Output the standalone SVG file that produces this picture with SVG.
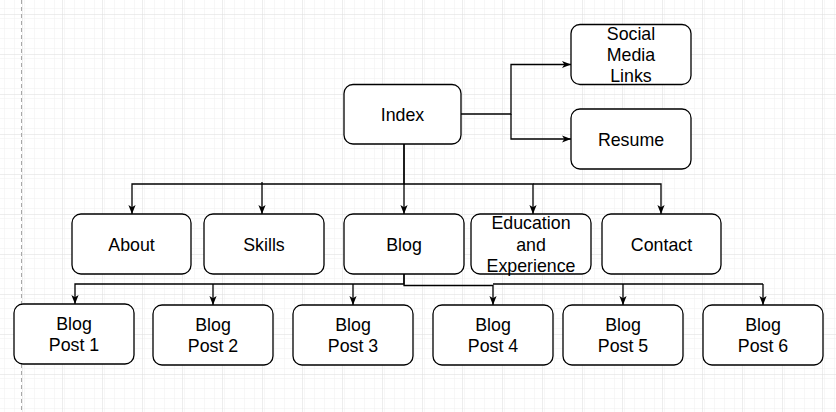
<svg xmlns="http://www.w3.org/2000/svg" width="836" height="412" viewBox="0 0 836 412">
  <defs>
    <pattern id="minor" x="22" y="14" width="10" height="10" patternUnits="userSpaceOnUse">
      <path d="M0,0 H10 M0,0 V10" fill="none" stroke="#f0f0f0" stroke-width="1"/>
    </pattern>
    <pattern id="major" x="22" y="14" width="40" height="40" patternUnits="userSpaceOnUse">
      <rect width="40" height="40" fill="url(#minor)"/>
      <path d="M0,0 H40 M0,0 V40" fill="none" stroke="#dcdcdc" stroke-width="1"/>
    </pattern>
    <marker id="arrow" viewBox="0 0 10 10" refX="10" refY="5" markerWidth="9" markerHeight="9" markerUnits="userSpaceOnUse" orient="auto">
      <path d="M0,1 L10,5 L0,9 L2.6,5 Z" fill="#000"/>
    </marker>
    <style>
      .node rect { fill: #fff; stroke: #000; stroke-width: 1.3; }
      .node text { font-family: "Liberation Sans", Arial, Helvetica, sans-serif; font-size: 17.8px; fill: #000; text-anchor: middle; }
      .edge { fill: none; stroke: #000; stroke-width: 1.3; }
      .arr { marker-end: url(#arrow); }
    </style>
  </defs>

  <!-- canvas grid -->
  <rect width="836" height="412" fill="#fff"/>
  <rect width="836" height="412" fill="url(#major)"/>
  <!-- page boundary -->
  <line x1="21.5" y1="0" x2="21.5" y2="412" stroke="#a8a8a8" stroke-width="1" stroke-dasharray="4 3"/>

  <!-- connectors -->
  <g id="connectors">
    <path class="edge arr" d="M461,114 H511 V64.5 H571"/>
    <path class="edge arr" d="M511,114 V139 H571"/>
    <path class="edge arr" d="M404,144 V184 H132 V214"/>
    <path class="edge arr" d="M262,182 V214"/>
    <path class="edge arr" d="M404,144 V214"/>
    <path class="edge arr" d="M404,184 H533 V214"/>
    <path class="edge arr" d="M533,184 H661 V214"/>
    <path class="edge arr" d="M404,274 V284 H75 V304"/>
    <path class="edge arr" d="M213,284 V305"/>
    <path class="edge arr" d="M353,284 V305"/>
    <path class="edge arr" d="M404,274 V285.5 H493 V305"/>
    <path class="edge" d="M493,284 H763"/>
    <path class="edge arr" d="M623,284 V305"/>
    <path class="edge arr" d="M763,284 V305"/>
  </g>

  <!-- nodes -->
  <g id="index" class="node">
    <rect x="344" y="84.5" width="117" height="59.5" rx="9"/>
    <text x="402.5" y="121">Index</text>
  </g>
  <g id="social" class="node">
    <rect x="571" y="24.5" width="120" height="60" rx="9"/>
    <text x="631" y="39.5">Social</text>
    <text x="631" y="60.8">Media</text>
    <text x="631" y="82">Links</text>
  </g>
  <g id="resume" class="node">
    <rect x="571" y="109" width="120" height="60" rx="9"/>
    <text x="631" y="145.5">Resume</text>
  </g>
  <g id="about" class="node">
    <rect x="72" y="214" width="119" height="60" rx="9"/>
    <text x="131.5" y="250.5">About</text>
  </g>
  <g id="skills" class="node">
    <rect x="204" y="214" width="120" height="60" rx="9"/>
    <text x="264" y="250.5">Skills</text>
  </g>
  <g id="blog" class="node">
    <rect x="344" y="214" width="120" height="60" rx="9"/>
    <text x="404" y="250.5">Blog</text>
  </g>
  <g id="education" class="node">
    <rect x="471" y="214" width="120" height="60" rx="9"/>
    <text x="531" y="229.3">Education</text>
    <text x="531" y="250.6">and</text>
    <text x="531" y="271.9">Experience</text>
  </g>
  <g id="contact" class="node">
    <rect x="602" y="214" width="119" height="60" rx="9"/>
    <text x="661.5" y="250.5">Contact</text>
  </g>
  <g id="post1" class="node">
    <rect x="14" y="304" width="120" height="60" rx="9"/>
    <text x="74" y="330">Blog</text>
    <text x="74" y="351.3">Post 1</text>
  </g>
  <g id="post2" class="node">
    <rect x="153" y="305" width="120" height="60" rx="9"/>
    <text x="213" y="331">Blog</text>
    <text x="213" y="352.3">Post 2</text>
  </g>
  <g id="post3" class="node">
    <rect x="293" y="305" width="120" height="60" rx="9"/>
    <text x="353" y="331">Blog</text>
    <text x="353" y="352.3">Post 3</text>
  </g>
  <g id="post4" class="node">
    <rect x="433" y="305" width="120" height="60" rx="9"/>
    <text x="493" y="331">Blog</text>
    <text x="493" y="352.3">Post 4</text>
  </g>
  <g id="post5" class="node">
    <rect x="563" y="305" width="120" height="60" rx="9"/>
    <text x="623" y="331">Blog</text>
    <text x="623" y="352.3">Post 5</text>
  </g>
  <g id="post6" class="node">
    <rect x="703" y="305" width="120" height="60" rx="9"/>
    <text x="763" y="331">Blog</text>
    <text x="763" y="352.3">Post 6</text>
  </g>
</svg>
